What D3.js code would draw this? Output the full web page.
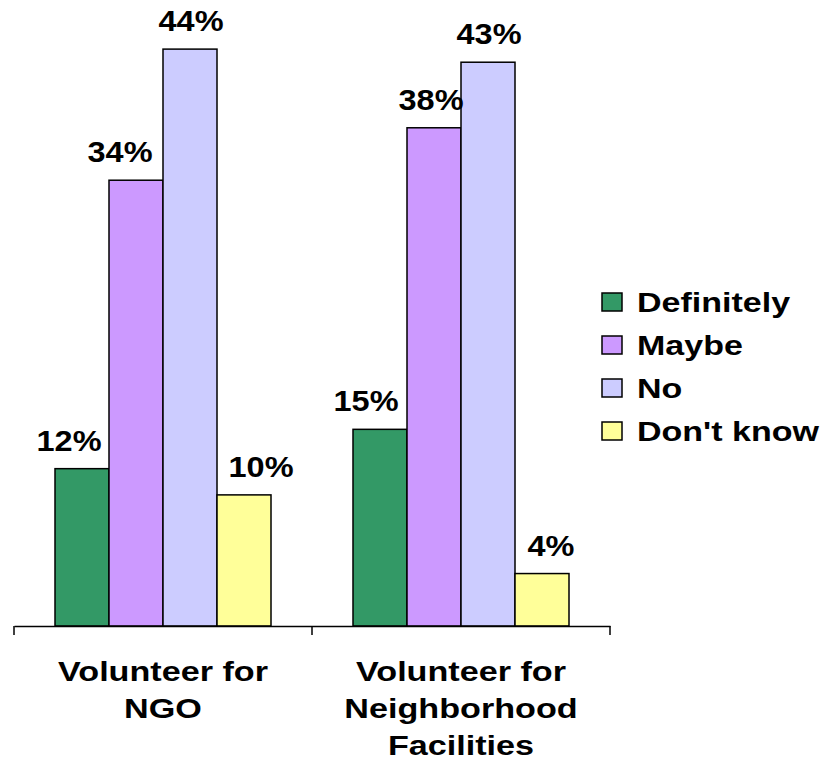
<!DOCTYPE html>
<html>
<head>
<meta charset="utf-8">
<script src="https://cdn.jsdelivr.net/npm/d3@7"></script>
<style>
  html, body { margin: 0; padding: 0; background: #fff; }
  svg { display: block; }
  text { font-family: "Liberation Sans", Arial, sans-serif; font-weight: bold; fill: #000; }
</style>
</head>
<body>
<svg id="chart" width="838" height="760"></svg>
<script>
const categories = [["Volunteer for", "NGO"], ["Volunteer for", "Neighborhood", "Facilities"]];
const seriesNames = ["Definitely", "Maybe", "No", "Don't know"];
const seriesColors = ["#339966", "#CC99FF", "#CCCCFF", "#FFFF99"];
const definitely = [0.12, 0.15];
const maybe = [0.34, 0.38];
const no = [0.44, 0.43];
const dontKnow = [0.10, 0.04];

// layout: horizontal nudge of value labels (per series, per category), in px
const labelNudge = [[-13, -14], [-16, -3], [1, 1], [17, 9]];

const seriesValues = [definitely, maybe, no, dontKnow];
const catKeys = categories.map((c, i) => "c" + i);

const svg = d3.select("#chart");
const baseY = 626;

const x0 = d3.scaleBand().domain(catKeys).range([14, 610]).paddingInner(0).paddingOuter(0);
const x1 = d3.scaleBand().domain(seriesNames).range([41, x0.bandwidth() - 41]).padding(0);
const y = d3.scaleLinear().domain([0, 0.45]).range([baseY, 36]);

const data = [];
catKeys.forEach((c, ci) => {
  seriesNames.forEach((s, si) => {
    data.push({ cat: c, series: s, color: seriesColors[si], value: seriesValues[si][ci], nudge: labelNudge[si][ci] });
  });
});

// bars
svg.append("g").selectAll("rect").data(data).join("rect")
  .attr("x", d => x0(d.cat) + x1(d.series))
  .attr("y", d => y(d.value))
  .attr("width", x1.bandwidth())
  .attr("height", d => baseY - y(d.value))
  .attr("fill", d => d.color)
  .attr("stroke", "#000")
  .attr("stroke-width", 1.5);

// value labels
const fmt = d3.format(".0%");
svg.append("g").selectAll("text").data(data).join("text")
  .attr("transform", d => `translate(${x0(d.cat) + x1(d.series) + x1.bandwidth() / 2 + d.nudge},${y(d.value) - 18}) scale(1.12,1)`)
  .attr("text-anchor", "middle")
  .style("font-size", "29px")
  .text(d => fmt(d.value));

// x axis
const axis = d3.axisBottom(x0).tickValues([]).tickSizeOuter(0);
const axG = svg.append("g").attr("transform", `translate(0,${baseY})`).call(axis);
axG.select(".domain").attr("stroke", "#000").attr("stroke-width", 1.5);
const tickXs = [x0.range()[0]].concat(catKeys.map(c => x0(c) + x0.bandwidth()));
axG.selectAll("line.tk").data(tickXs).join("line")
  .attr("class", "tk")
  .attr("x1", d => d).attr("x2", d => d)
  .attr("y1", 0).attr("y2", 9)
  .attr("stroke", "#000").attr("stroke-width", 1.5);

// category labels
const catG = svg.append("g").selectAll("g").data(categories).join("g")
  .attr("transform", (d, i) => `translate(${x0(catKeys[i]) + x0.bandwidth() / 2},0)`);
catG.selectAll("text").data(d => d).join("text")
  .attr("transform", (d, i) => `translate(0,${681 + i * 37}) scale(1.22,1)`)
  .attr("text-anchor", "middle")
  .style("font-size", "28px")
  .text(d => d);

// legend
const leg = svg.append("g").selectAll("g").data(seriesNames).join("g")
  .attr("transform", (d, i) => `translate(602,${293 + i * 43})`);
leg.append("rect")
  .attr("width", 20).attr("height", 18)
  .attr("fill", (d, i) => seriesColors[i])
  .attr("stroke", "#000").attr("stroke-width", 1.5);
leg.append("text")
  .attr("transform", "translate(35,19) scale(1.26,1)")
  .style("font-size", "27px")
  .text(d => d);
</script>
</body>
</html>
